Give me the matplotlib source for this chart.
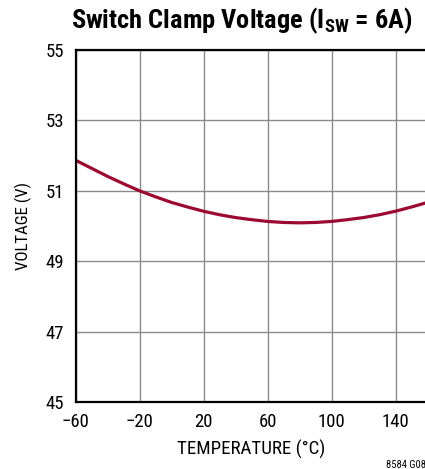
import matplotlib
matplotlib.use("Agg")
import matplotlib.pyplot as plt
from matplotlib import font_manager as fm

temps = [-60, -50, -40, -30, -20, -10, 0, 10, 20, 30, 40, 50, 60, 70, 80, 90, 100, 110, 120, 130, 140, 150, 160]
volts = [51.87, 51.64, 51.41, 51.20, 51.00, 50.83, 50.67, 50.54, 50.42, 50.32, 50.24, 50.18, 50.13,
         50.10, 50.09, 50.10, 50.13, 50.18, 50.24, 50.32, 50.42, 50.54, 50.67]
xticks = [-60, -20, 20, 60, 100, 140]
yticks = [45, 47, 49, 51, 53, 55]

available = {f.name for f in fm.fontManager.ttflist}
main = next((n for n in ['Roboto Condensed', 'PT Sans Narrow', 'Archivo Narrow', 'Liberation Sans']
             if n in available), 'DejaVu Sans')
plt.rcParams['font.family'] = [main, 'DejaVu Sans']
plt.rcParams['mathtext.fontset'] = 'custom'
plt.rcParams['mathtext.rm'] = main + ':bold'
plt.rcParams['mathtext.it'] = main + ':bold'
plt.rcParams['mathtext.bf'] = main + ':bold'

W, H = 425, 469
fig = plt.figure(figsize=(W / 100, H / 100), dpi=100)
left, right, top, bottom = 75.5, 427.5, 50, 402
ax = fig.add_axes([left / W, 1 - bottom / H, (right - left) / W, (bottom - top) / H])
ax.set_xlim(-60, 160)
ax.set_ylim(45, 55)
ax.set_xticks(xticks)
ax.set_yticks(yticks)
ax.grid(True, color='#8a8a8a', linewidth=1.0)
ax.tick_params(length=0, labelsize=13.5, colors='black')
ax.tick_params(axis='x', pad=8)
ax.tick_params(axis='y', pad=8)
for s in ['left', 'bottom', 'top', 'right']:
    ax.spines[s].set_linewidth(1.6)
    ax.spines[s].set_color('black')

ax.plot(temps, volts, color='#9b0a32', linewidth=2.3, solid_capstyle='butt')

ax.set_xlabel('TEMPERATURE (°C)', fontsize=13.6, labelpad=6)
ax.set_ylabel('VOLTAGE (V)', fontsize=12.2, labelpad=10)
fig.text(242 / W, 1 - 21 / H, 'Switch Clamp Voltage (I$_{\\mathrm{SW}}$ = 6A)', ha='center', va='center',
         fontsize=19, fontweight='bold')
fig.text(386 / W, 1 - 465 / H, '8584 G08', fontsize=7.6, ha='left', va='center')

fig.savefig('out.png', dpi=100)
